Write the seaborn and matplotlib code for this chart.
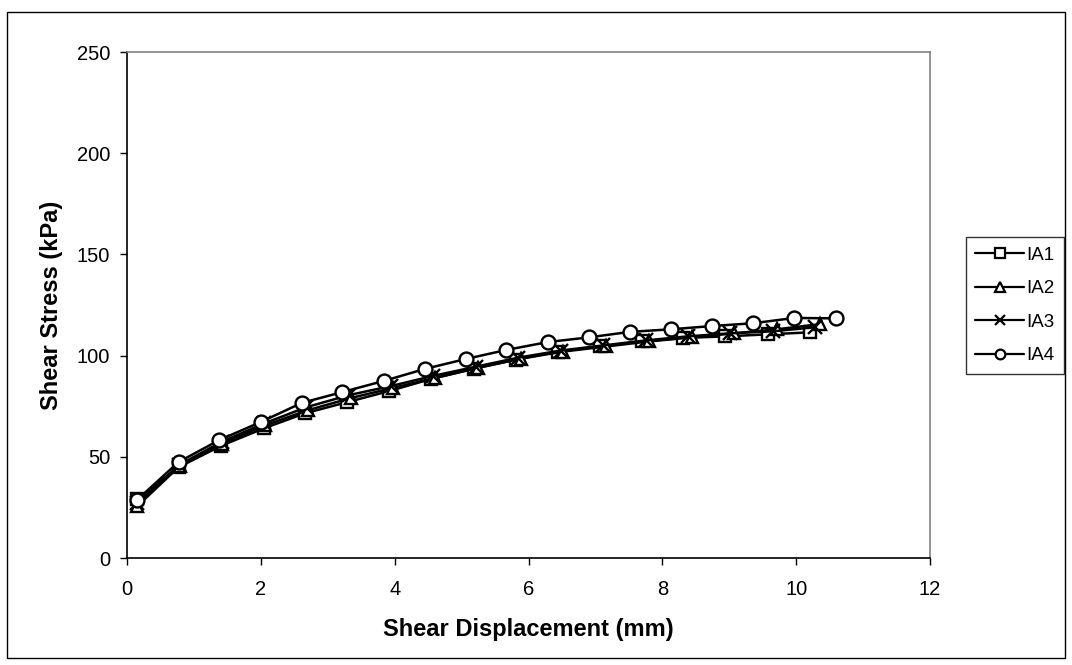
import numpy as np
import pandas as pd
import matplotlib
matplotlib.use("Agg")
import matplotlib.pyplot as plt
import seaborn as sns
from matplotlib.patches import Rectangle
from matplotlib.lines import Line2D

series_names = ["IA1", "IA2", "IA3", "IA4"]

ia1_x = [0.15, 0.78, 1.41, 2.04, 2.66, 3.29, 3.92, 4.55, 5.18, 5.81, 6.44, 7.07, 7.70, 8.31, 8.94, 9.58, 10.21]
ia1_y = [29.0, 45.0, 55.5, 64.0, 71.5, 77.0, 82.5, 88.5, 93.5, 98.0, 102.0, 104.5, 107.0, 108.7, 109.5, 110.5, 111.5]

ia2_x = [0.15, 0.79, 1.42, 2.06, 2.70, 3.34, 3.97, 4.61, 5.25, 5.89, 6.52, 7.16, 7.80, 8.44, 9.07, 9.71, 10.35]
ia2_y = [25.5, 45.5, 56.5, 65.5, 73.0, 79.0, 84.0, 89.0, 94.0, 98.5, 102.0, 104.5, 107.0, 109.0, 111.0, 113.0, 115.5]

ia3_x = [0.15, 0.78, 1.42, 2.05, 2.68, 3.32, 3.95, 4.58, 5.21, 5.85, 6.48, 7.11, 7.75, 8.38, 9.01, 9.65, 10.28]
ia3_y = [27.0, 46.0, 57.5, 66.5, 74.5, 80.5, 85.0, 90.0, 94.5, 99.0, 102.5, 105.0, 107.5, 109.5, 111.0, 112.0, 114.0]

ia4_x = [0.15, 0.77, 1.38, 2.00, 2.61, 3.22, 3.84, 4.45, 5.06, 5.67, 6.29, 6.90, 7.51, 8.13, 8.74, 9.36, 9.97, 10.60]
ia4_y = [28.7, 47.4, 58.3, 67.2, 76.6, 82.0, 87.5, 93.4, 98.3, 102.8, 106.7, 109.0, 111.7, 113.0, 114.6, 116.0, 118.6, 118.4]

x_ticks = [0, 2, 4, 6, 8, 10, 12]
y_ticks = [0, 50, 100, 150, 200, 250]

sns.set_style("white")
plt.rcParams["font.family"] = ["Liberation Sans", "DejaVu Sans"]
plt.rcParams["text.color"] = "black"
plt.rcParams["axes.labelcolor"] = "black"
plt.rcParams["xtick.color"] = "black"
plt.rcParams["ytick.color"] = "black"

W, H = 1072, 665
fig = plt.figure(figsize=(W / 100, H / 100), dpi=100)
ax = fig.add_axes([127 / W, 1 - 558 / H, (930 - 127) / W, (558 - 52) / H])

marker_map = {"IA1": "s", "IA2": "^", "IA3": "x", "IA4": "o"}
size_map = {"IA1": 8.5, "IA2": 9, "IA3": 9.5, "IA4": 10}
leg_size_map = {"IA1": 6.5, "IA2": 7, "IA3": 7.5, "IA4": 7}

for name, xs, ys in zip(series_names, [ia1_x, ia2_x, ia3_x, ia4_x], [ia1_y, ia2_y, ia3_y, ia4_y]):
    d = pd.DataFrame({"disp": xs, "stress": ys})
    sns.lineplot(data=d, x="disp", y="stress", ax=ax, color="black",
                 sort=False, estimator=None, linewidth=1.8,
                 marker=marker_map[name], markersize=size_map[name],
                 markerfacecolor="white", markeredgecolor="black",
                 markeredgewidth=1.7, legend=False)

ax.set_xlim(0, 12)
ax.set_ylim(0, 250)
ax.set_xticks(x_ticks)
ax.set_yticks(y_ticks)
ax.tick_params(direction="out", length=5, width=1, labelsize=14.5, colors="black",
               bottom=True, left=True)
ax.tick_params(axis="x", pad=11)
ax.tick_params(axis="y", pad=7)
ax.set_xlabel("Shear Displacement (mm)", fontsize=17, fontweight="bold")
ax.set_ylabel("Shear Stress (kPa)", fontsize=17, fontweight="bold")
ax.xaxis.set_label_coords(0.5, (558 - 618) / 506)
ax.yaxis.label.set_verticalalignment("center")
ax.yaxis.set_label_coords((52 - 127) / 803, 0.5)

for side in ["left", "bottom"]:
    ax.spines[side].set_color("black")
    ax.spines[side].set_linewidth(1.2)
for side in ["top", "right"]:
    ax.spines[side].set_color("#808080")
    ax.spines[side].set_linewidth(1.2)

handles = [Line2D([], [], color="black", linewidth=1.6, marker=marker_map[n],
                  markersize=leg_size_map[n], markerfacecolor="white",
                  markeredgecolor="black", markeredgewidth=1.6)
           for n in series_names]
leg = fig.legend(handles, series_names, loc="upper left",
                 bbox_to_anchor=(966 / W, 1 - 237 / H), fontsize=13.5,
                 frameon=True, fancybox=False, edgecolor="black",
                 handlelength=2.6, handletextpad=0.1, borderpad=0.5,
                 labelspacing=0.88, borderaxespad=0)
leg.get_frame().set_linewidth(1.0)

fig.patches.append(Rectangle((7 / W, 1 - 658 / H), (1065 - 7) / W, (658 - 12) / H,
                             transform=fig.transFigure, fill=False,
                             edgecolor="black", linewidth=1.0))

fig.savefig("out.png", dpi=100)
